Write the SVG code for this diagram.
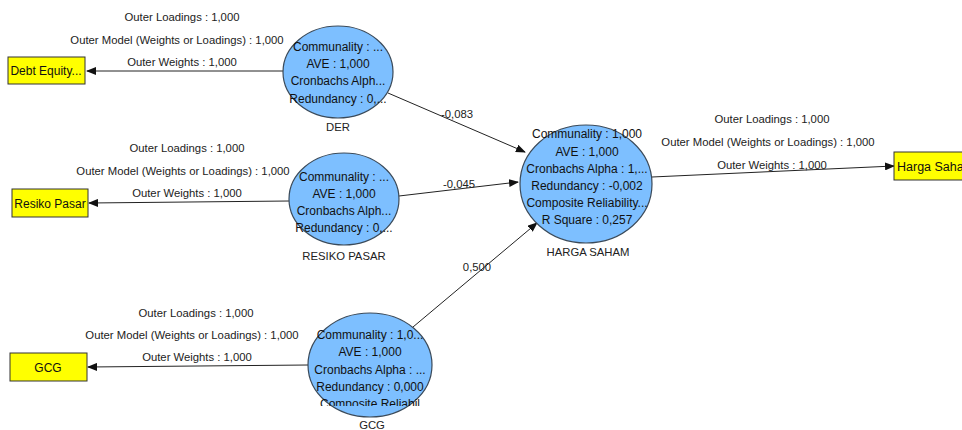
<svg xmlns="http://www.w3.org/2000/svg" width="962" height="430" viewBox="0 0 962 430">
<style>
.lv{fill:#7dbfff;stroke:#3a4a5a;stroke-width:1.2}
.mv{fill:#ffff00;stroke:#333;stroke-width:1}
.t{font-family:"Liberation Sans",Arial,sans-serif;font-size:12px;fill:#111;text-anchor:middle}
.s{font-family:"Liberation Sans",Arial,sans-serif;font-size:11.3px;fill:#222;text-anchor:middle}
.c{stroke:#222;stroke-width:1;fill:none;marker-end:url(#ah)}
</style>
<defs>
<marker id="ah" markerWidth="10" markerHeight="8" refX="9" refY="4" orient="auto" markerUnits="userSpaceOnUse">
<path d="M0,0 L10,4 L0,8 z" fill="#111"/>
</marker>
<clipPath id="cgcg"><rect x="290" y="310" width="160" height="96"/></clipPath>
<clipPath id="cview"><rect x="0" y="0" width="962" height="430"/></clipPath>
</defs>
<rect width="962" height="430" fill="#fff"/>
<g id="connectors">
<line class="c" x1="283" y1="71" x2="87" y2="71"/>
<line class="c" x1="289" y1="201" x2="89" y2="203"/>
<line class="c" x1="308" y1="365" x2="88" y2="367"/>
<line class="c" x1="652" y1="177" x2="894" y2="166"/>
<line class="c" x1="388" y1="93" x2="525" y2="152"/>
<line class="c" x1="399" y1="196" x2="518" y2="182"/>
<line class="c" x1="413" y1="327" x2="537" y2="223"/>
<text class="s" x="182" y="21">Outer Loadings : 1,000</text>
<text class="s" x="177" y="44">Outer Model (Weights or Loadings) : 1,000</text>
<text class="s" x="182" y="66">Outer Weights : 1,000</text>
<text class="s" x="187" y="152">Outer Loadings : 1,000</text>
<text class="s" x="183" y="175">Outer Model (Weights or Loadings) : 1,000</text>
<text class="s" x="187" y="197">Outer Weights : 1,000</text>
<text class="s" x="196" y="317">Outer Loadings : 1,000</text>
<text class="s" x="192" y="339">Outer Model (Weights or Loadings) : 1,000</text>
<text class="s" x="197" y="361">Outer Weights : 1,000</text>
<text class="s" x="772" y="123">Outer Loadings : 1,000</text>
<text class="s" x="768" y="146">Outer Model (Weights or Loadings) : 1,000</text>
<text class="s" x="772" y="169">Outer Weights : 1,000</text>
<text class="s" x="457" y="118">-0,083</text>
<text class="s" x="459" y="188">-0,045</text>
<text class="s" x="477" y="271">0,500</text>
</g>
<g id="debt-equity"><rect class="mv" x="8" y="57" width="77" height="27"/><text class="t" x="46" y="75">Debt Equity...</text></g>
<g id="resiko-pasar-mv"><rect class="mv" x="12" y="189" width="76" height="28"/><text class="t" x="50" y="208">Resiko Pasar</text></g>
<g id="gcg-mv"><rect class="mv" x="10" y="353" width="77" height="28"/><text class="t" x="48" y="372">GCG</text></g>
<g id="harga-saham-mv" clip-path="url(#cview)"><rect class="mv" x="894" y="152" width="90" height="28"/><text class="t" x="897" y="171" style="text-anchor:start;font-size:12.5px">Harga Saham</text></g>
<g id="der">
<ellipse class="lv" cx="338" cy="72" rx="55" ry="46"/>
<text class="t" x="338" y="51">Communality :  ...</text>
<text class="t" x="338" y="68">AVE : 1,000</text>
<text class="t" x="338" y="85">Cronbachs Alph...</text>
<text class="t" x="338" y="103">Redundancy : 0,...</text>
<text class="s" x="338" y="131">DER</text>
</g>
<g id="resiko-pasar">
<ellipse class="lv" cx="344" cy="199" rx="55" ry="46"/>
<text class="t" x="344" y="181">Communality :  ...</text>
<text class="t" x="344" y="198">AVE : 1,000</text>
<text class="t" x="344" y="215">Cronbachs Alph...</text>
<text class="t" x="344" y="232">Redundancy : 0,...</text>
<text class="s" x="344" y="260">RESIKO PASAR</text>
</g>
<g id="gcg">
<ellipse class="lv" cx="370" cy="365" rx="62" ry="52"/>
<g clip-path="url(#cgcg)">
<text class="t" x="370" y="339">Communality : 1,0...</text>
<text class="t" x="370" y="356">AVE : 1,000</text>
<text class="t" x="370" y="374">Cronbachs Alpha : ...</text>
<text class="t" x="370" y="391">Redundancy : 0,000</text>
<text class="t" x="370" y="408">Composite Reliabil</text>
</g>
<text class="s" x="372" y="429">GCG</text>
</g>
<g id="harga-saham">
<ellipse class="lv" cx="586" cy="184" rx="66" ry="59"/>
<text class="t" x="587" y="138">Communality : 1,000</text>
<text class="t" x="587" y="156">AVE : 1,000</text>
<text class="t" x="587" y="173">Cronbachs Alpha : 1,...</text>
<text class="t" x="587" y="190">Redundancy : -0,002</text>
<text class="t" x="587" y="207">Composite Reliability...</text>
<text class="t" x="587" y="224">R Square : 0,257</text>
<text class="s" x="588" y="256">HARGA SAHAM</text>
</g>
</svg>
